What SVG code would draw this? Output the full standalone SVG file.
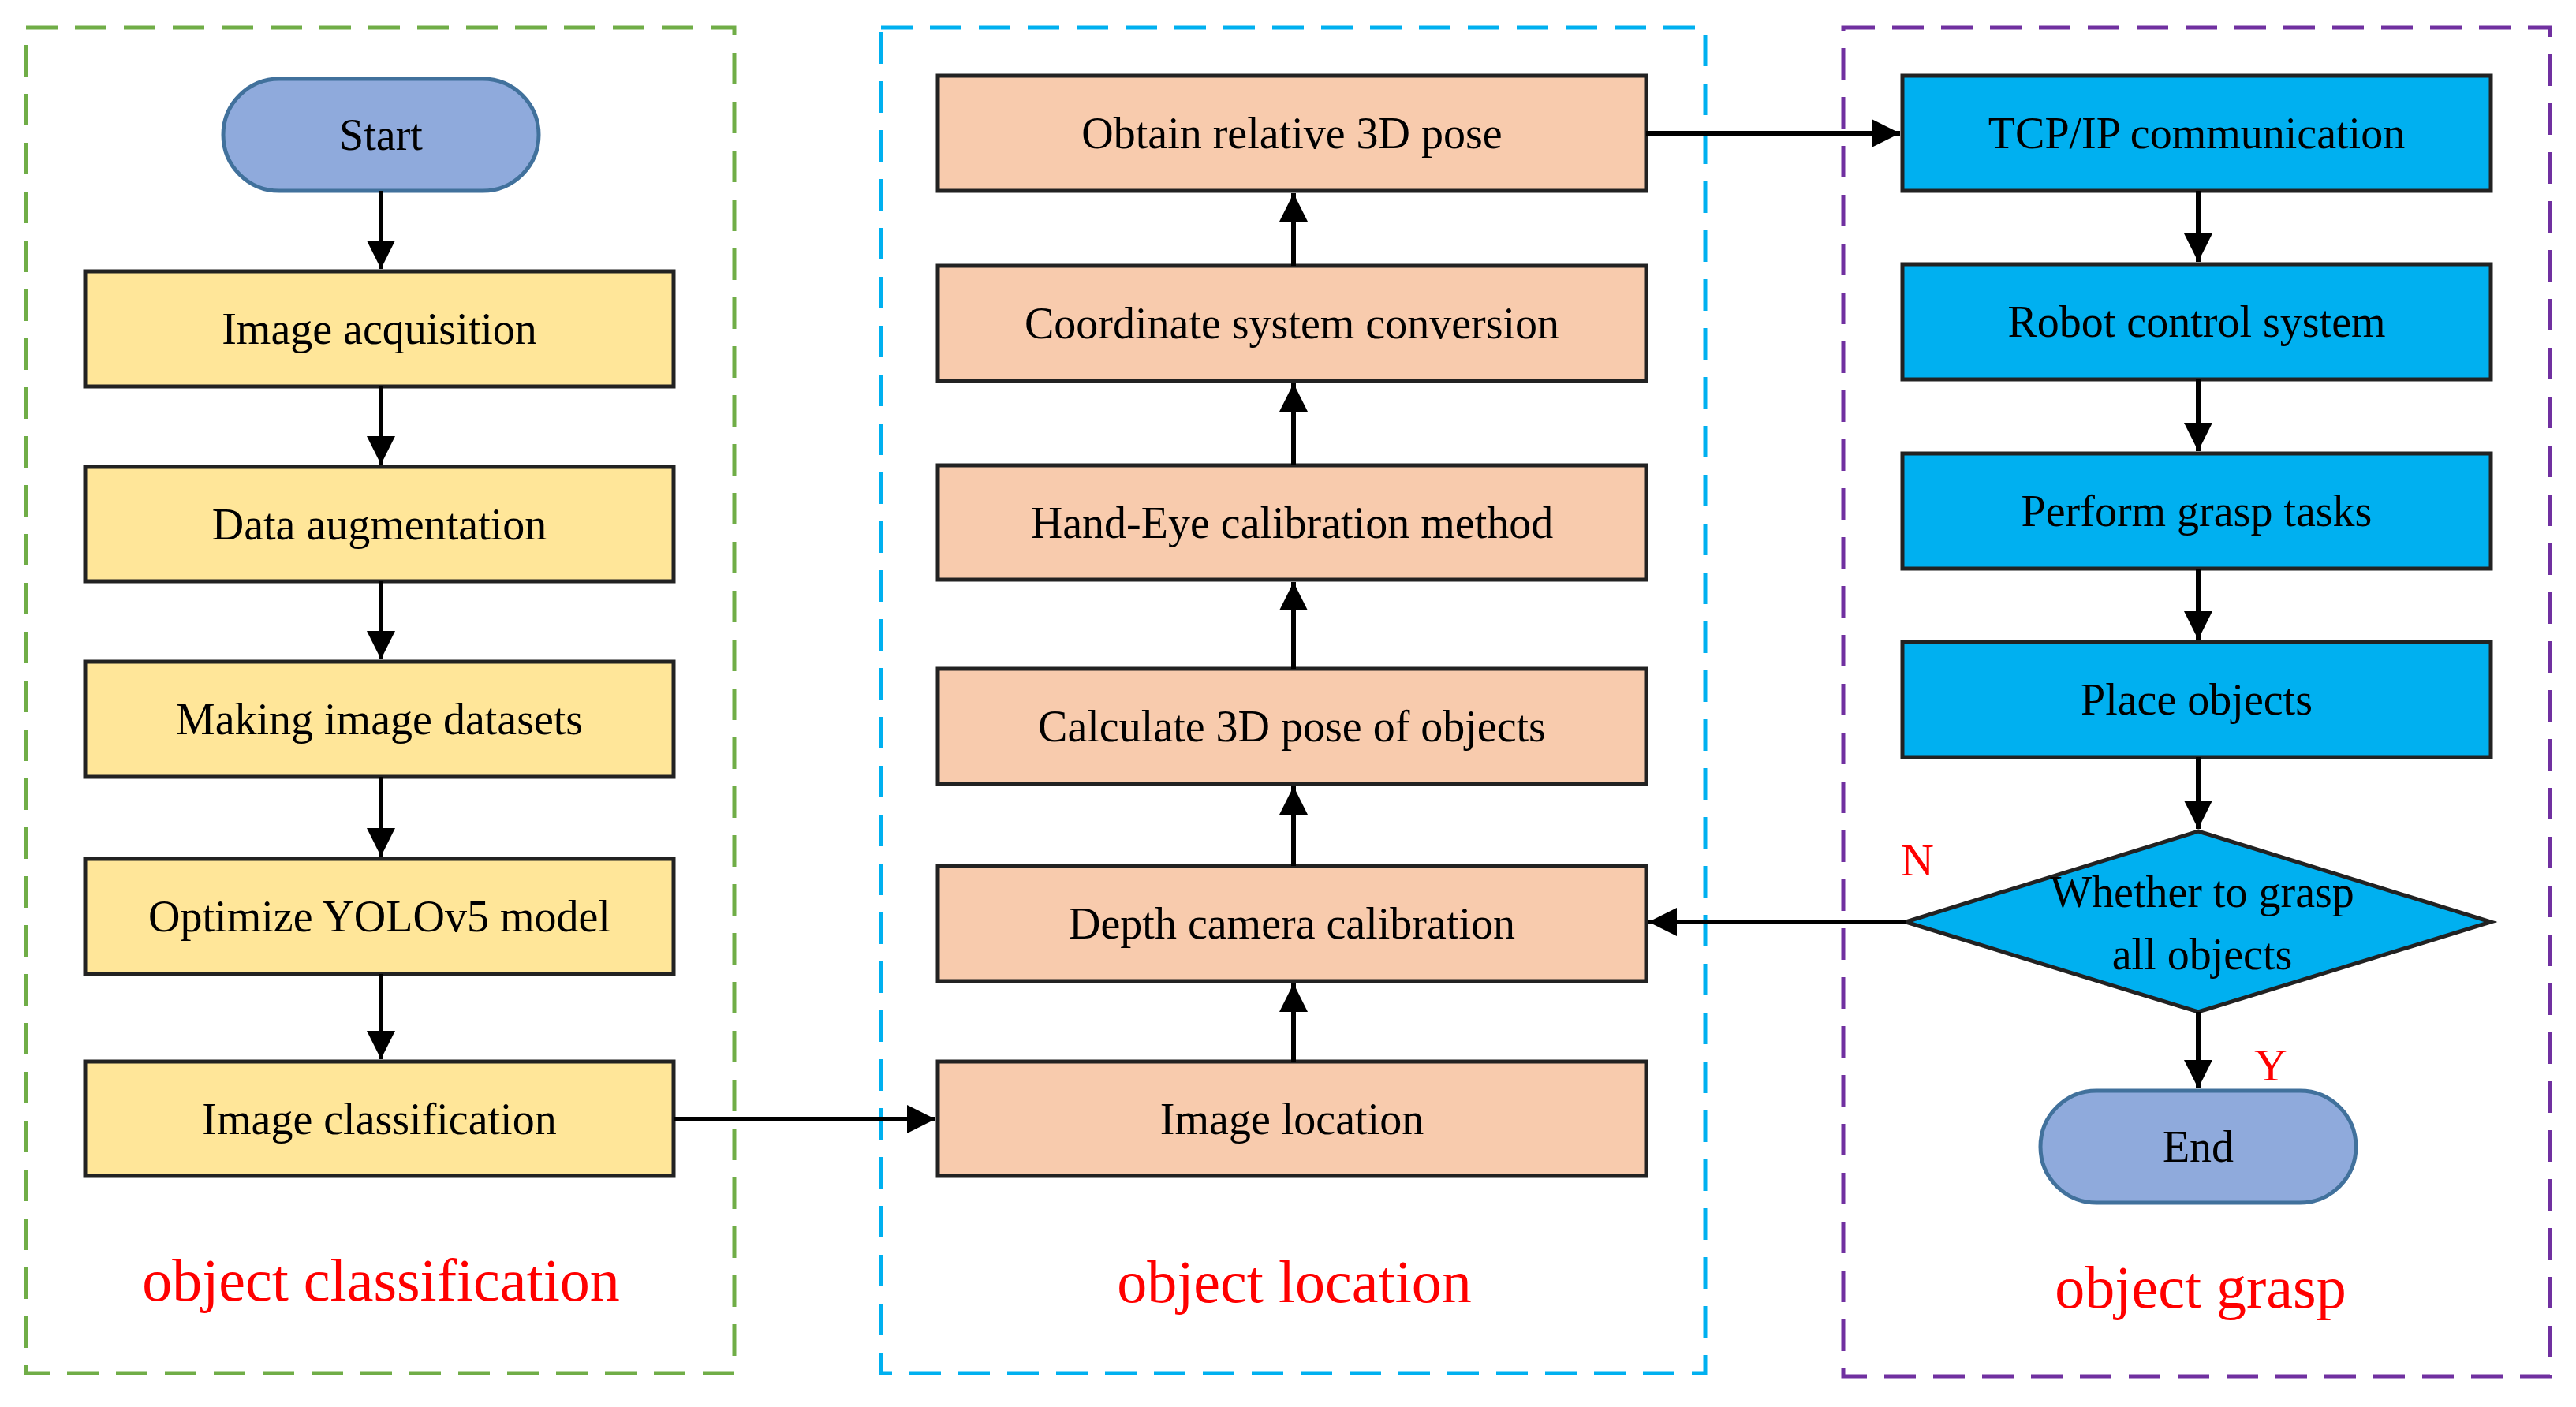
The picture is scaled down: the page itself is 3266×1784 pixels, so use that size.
<svg xmlns="http://www.w3.org/2000/svg" width="3266" height="1784" viewBox="0 0 3266 1784">
<style>
text{font-family:"Liberation Serif","Times New Roman",serif;text-anchor:middle;dominant-baseline:central}
.t{font-size:56px;fill:#000}
.lab{font-size:76px;fill:#FF0000}
.y{fill:#FFE699;stroke:#222;stroke-width:5}
.s{fill:#F8CBAD;stroke:#222;stroke-width:5}
.b{fill:#00B0F0;stroke:#222;stroke-width:5}
.p{fill:#8FAADC;stroke:#41719C;stroke-width:5}
.c line,.c polyline{stroke:#000;stroke-width:6;fill:none;marker-end:url(#ah)}
.d{fill:none;stroke-width:5;stroke-dasharray:40 22}
</style>
<defs><marker id="ah" markerUnits="userSpaceOnUse" markerWidth="40" markerHeight="40" refX="36" refY="18" orient="auto"><path d="M0,0 L36,18 L0,36 Z" fill="#000"/></marker></defs>
<rect width="3266" height="1784" fill="#fff"/>
<g id="regions">
<rect class="d" x="33" y="35" width="898" height="1706" stroke="#70AD47"/>
<rect class="d" x="1117" y="35" width="1045" height="1706" stroke="#00B0F0"/>
<rect class="d" x="2337" y="35" width="896" height="1710" stroke="#7030A0"/>
<text class="lab" x="483" y="1623">object classification</text>
<text class="lab" x="1641" y="1625">object  location</text>
<text class="lab" x="2790" y="1632">object grasp</text>
</g>
<g id="start"><rect class="p" x="283" y="100" width="400" height="142" rx="71"/><text class="t" x="483" y="171">Start</text></g>
<g id="n1"><rect class="y" x="108" y="344" width="746" height="146"/><text class="t" x="481" y="417">Image acquisition</text></g>
<g id="n2"><rect class="y" x="108" y="592" width="746" height="145"/><text class="t" x="481" y="665">Data augmentation</text></g>
<g id="n3"><rect class="y" x="108" y="839" width="746" height="146"/><text class="t" x="481" y="912">Making image datasets</text></g>
<g id="n4"><rect class="y" x="108" y="1089" width="746" height="146"/><text class="t" x="481" y="1162">Optimize YOLOv5 model</text></g>
<g id="n5"><rect class="y" x="108" y="1346" width="746" height="145"/><text class="t" x="481" y="1419">Image classification</text></g>
<g id="m1"><rect class="s" x="1189" y="96" width="898" height="146"/><text class="t" x="1638" y="169">Obtain relative 3D pose</text></g>
<g id="m2"><rect class="s" x="1189" y="337" width="898" height="146"/><text class="t" x="1638" y="410">Coordinate system conversion</text></g>
<g id="m3"><rect class="s" x="1189" y="590" width="898" height="145"/><text class="t" x="1638" y="663">Hand-Eye calibration method</text></g>
<g id="m4"><rect class="s" x="1189" y="848" width="898" height="146"/><text class="t" x="1638" y="921">Calculate 3D pose of objects</text></g>
<g id="m5"><rect class="s" x="1189" y="1098" width="898" height="146"/><text class="t" x="1638" y="1171">Depth camera calibration</text></g>
<g id="m6"><rect class="s" x="1189" y="1346" width="898" height="145"/><text class="t" x="1638" y="1419">Image location</text></g>
<g id="r1"><rect class="b" x="2412" y="96" width="746" height="146"/><text class="t" x="2785" y="169">TCP/IP communication</text></g>
<g id="r2"><rect class="b" x="2412" y="335" width="746" height="146"/><text class="t" x="2785" y="408">Robot control system</text></g>
<g id="r3"><rect class="b" x="2412" y="575" width="746" height="146"/><text class="t" x="2785" y="648">Perform grasp tasks</text></g>
<g id="r4"><rect class="b" x="2412" y="814" width="746" height="146"/><text class="t" x="2785" y="887">Place objects</text></g>
<g id="r5"><polygon class="b" points="2787,1054 3158,1169 2787,1283 2416,1169"/><text class="t" x="2792" y="1131">Whether to grasp</text><text class="t" x="2792" y="1210">all objects</text></g>
<g id="end"><rect class="p" x="2587" y="1383" width="400" height="142" rx="71"/><text class="t" x="2787" y="1454">End</text></g>
<g id="connectors" class="c">
<line x1="483" y1="242" x2="483" y2="341"/>
<line x1="483" y1="490" x2="483" y2="589"/>
<line x1="483" y1="737" x2="483" y2="836"/>
<line x1="483" y1="985" x2="483" y2="1086"/>
<line x1="483" y1="1235" x2="483" y2="1343"/>
<line x1="854" y1="1419" x2="1186" y2="1419"/>
<line x1="1640" y1="1346" x2="1640" y2="1247"/>
<line x1="1640" y1="1098" x2="1640" y2="997"/>
<line x1="1640" y1="848" x2="1640" y2="738"/>
<line x1="1640" y1="590" x2="1640" y2="486"/>
<line x1="1640" y1="337" x2="1640" y2="245"/>
<line x1="2087" y1="169" x2="2409" y2="169"/>
<line x1="2787" y1="242" x2="2787" y2="332"/>
<line x1="2787" y1="481" x2="2787" y2="572"/>
<line x1="2787" y1="721" x2="2787" y2="811"/>
<line x1="2787" y1="960" x2="2787" y2="1051"/>
<line x1="2416" y1="1169" x2="2090" y2="1169"/>
<line x1="2787" y1="1283" x2="2787" y2="1380"/>
</g>
<g id="branch-labels">
<text x="2431" y="1090" style="font-size:58px;fill:#FF0000">N</text>
<text x="2879" y="1350" style="font-size:58px;fill:#FF0000">Y</text>
</g>
</svg>
